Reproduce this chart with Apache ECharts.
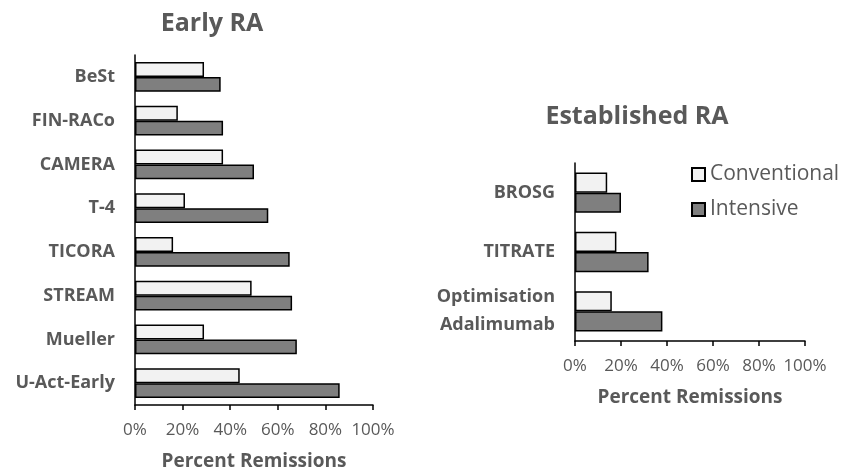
<!DOCTYPE html>
<html>
<head>
<meta charset="utf-8">
<script src="https://cdn.jsdelivr.net/npm/echarts@6/dist/echarts.min.js"></script>
<style>
    html, body { margin: 0; padding: 0; background: #fff; }
    #chart { width: 846px; height: 471px; }
</style>
</head>
<body>
<div id="chart"></div>
<script>
const earlyTrials = ['BeSt', 'FIN-RACo', 'CAMERA', 'T-4', 'TICORA', 'STREAM', 'Mueller', 'U-Act-Early'];
const earlyConventional = [29, 18, 37, 21, 16, 49, 29, 44];
const earlyIntensive = [36, 37, 50, 56, 65, 66, 68, 86];

const establishedTrials = ['BROSG', 'TITRATE', 'Optimisation\nAdalimumab'];
const establishedConventional = [14, 18, 16];
const establishedIntensive = [20, 32, 38];

const percentTicks = [0, 20, 40, 60, 80, 100];

const grey = '#595959';
const font = '"Open Sans", "Noto Sans", sans-serif';

const xAxisFor = (gridIndex) => ({
    type: 'value',
    gridIndex,
    min: percentTicks[0],
    max: percentTicks[percentTicks.length - 1],
    interval: 20,
    name: 'Percent Remissions',
    nameLocation: 'middle',
    nameGap: 47,
    nameTextStyle: { color: grey, fontSize: 19, fontWeight: 'bold', fontFamily: font },
    axisLine: { show: true, lineStyle: { color: '#000', width: 1.5 } },
    axisTick: { show: true, length: 5, lineStyle: { color: '#000', width: 1.5 } },
    axisLabel: { color: grey, fontSize: 17, fontFamily: font, margin: 17, formatter: '{value}%' },
    splitLine: { show: false }
});

const yAxisFor = (gridIndex, data) => ({
    type: 'category',
    gridIndex,
    data,
    inverse: true,
    axisLine: { show: true, lineStyle: { color: '#000', width: 1.5 } },
    axisTick: { show: false },
    axisLabel: { color: grey, fontSize: 18, fontWeight: 'bold', fontFamily: font, margin: 20, lineHeight: 28 }
});

const barStyle = (color) => ({ color, borderColor: '#000', borderWidth: 1.5 });

const chart = echarts.init(document.getElementById('chart'));
chart.setOption({
    animation: false,
    title: [
        { text: 'Early RA', left: 207, top: 6, textAlign: 'center',
          textStyle: { color: grey, fontSize: 25, fontWeight: 'bold', fontFamily: font } },
        { text: 'Established RA', left: 632, top: 99, textAlign: 'center',
          textStyle: { color: grey, fontSize: 25, fontWeight: 'bold', fontFamily: font } }
    ],
    legend: {
        left: 686,
        top: 159,
        orient: 'vertical',
        itemWidth: 13,
        itemHeight: 13,
        itemGap: 14,
        icon: 'rect',
        textStyle: { color: grey, fontSize: 21, fontFamily: font },
        data: ['Conventional', 'Intensive']
    },
    grid: [
        { left: 135, top: 55, width: 238, height: 350, outerBoundsMode: 'none' },
        { left: 575, top: 163, width: 230, height: 178, outerBoundsMode: 'none' }
    ],
    xAxis: [xAxisFor(0), xAxisFor(1)],
    yAxis: [yAxisFor(0, earlyTrials), yAxisFor(1, establishedTrials)],
    series: [
        { name: 'Conventional', type: 'bar', xAxisIndex: 0, yAxisIndex: 0, data: earlyConventional,
          barGap: '0%', barCategoryGap: '32%', itemStyle: barStyle('#f2f2f2') },
        { name: 'Intensive', type: 'bar', xAxisIndex: 0, yAxisIndex: 0, data: earlyIntensive,
          barGap: '0%', barCategoryGap: '32%', itemStyle: barStyle('#7f7f7f') },
        { name: 'Conventional', type: 'bar', xAxisIndex: 1, yAxisIndex: 1, data: establishedConventional,
          barGap: '0%', barCategoryGap: '32%', itemStyle: barStyle('#f2f2f2') },
        { name: 'Intensive', type: 'bar', xAxisIndex: 1, yAxisIndex: 1, data: establishedIntensive,
          barGap: '0%', barCategoryGap: '32%', itemStyle: barStyle('#7f7f7f') }
    ]
});
</script>
</body>
</html>
